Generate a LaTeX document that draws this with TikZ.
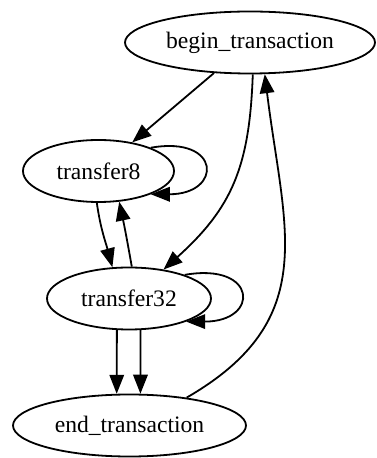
\documentclass[tikz,border=0pt]{standalone}
\usepackage{fontspec}
\setmainfont{Liberation Serif}
\usetikzlibrary{arrows.meta}
\usetikzlibrary{shapes.geometric}

\begin{document}
\begin{tikzpicture}[x=1pt,y=1pt,line width=1.8pt,
    >={Triangle[length=19pt,width=14.5pt]},
    state/.style={ellipse,draw,inner sep=0pt,minimum height=62pt,font=\fontsize{23.6}{28}\selectfont}]

		\useasboundingbox (0,0) rectangle (376,458);

		\node [state, minimum width=250pt] (B) at (250,415.5) {begin\_transaction};
		\node [state, minimum width=151pt] (T8) at (98.5,287) {transfer8};
		\node [state, minimum width=164pt] (T32) at (129,159.5) {transfer32};
		\node [state, minimum width=233pt] (E) at (129.5,32.5) {end\_transaction};

		\draw [->] (B) -- (T8);
		\draw [->] (B.275) to [out=-92,in=42,looseness=1.1] (T32.40);
		\draw [->] (E.26) to [out=30,in=-83,looseness=1.2] (B.295);

		\draw [->] (T8.267) to [out=-82,in=105] (T32.118);
		\draw [->] (T32.85) to [out=100,in=-78] (T8.304);

		\draw [->] (T8.24) to [out=10,in=0,distance=72pt] (T8.-24);
		\draw [->] (T32.23) to [out=10,in=0,distance=74pt] (T32.-22);

		\foreach \a/\b in {249/112,290/71}
			\draw [->] (T32.\a) -- (E.\b);
\end{tikzpicture}
\end{document}
